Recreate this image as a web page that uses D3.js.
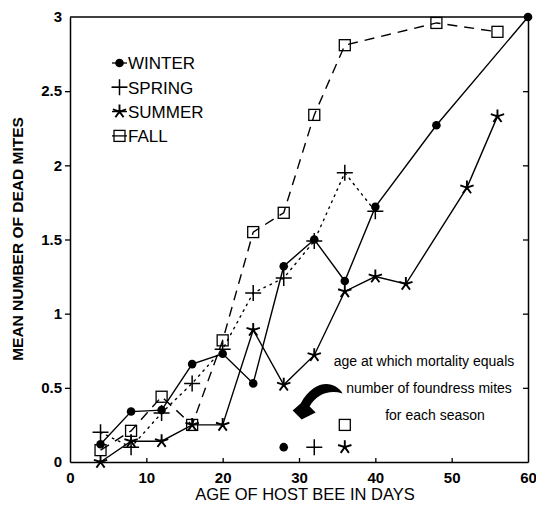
<!DOCTYPE html>
<html>
<head>
<meta charset="utf-8">
<script src="https://cdn.jsdelivr.net/npm/d3@7"></script>
<style>
  body { margin: 0; background: #fff; }
  svg { font-family: "Liberation Sans", Arial, Helvetica, sans-serif; }
</style>
</head>
<body>
<div id="container"></div>
<script>

// data (age in days, mean number of dead mites)
var winterDays = [4, 8, 12, 16, 20, 24, 28, 32, 36, 40, 48, 60];
var winterVals = [0.12, 0.34, 0.35, 0.66, 0.73, 0.53, 1.32, 1.50, 1.22, 1.72, 2.27, 3.0];

var springDays = [4, 8, 12, 16, 20, 24, 28, 32, 36, 40];
var springVals = [0.20, 0.10, 0.33, 0.53, 0.76, 1.14, 1.24, 1.49, 1.95, 1.69];

var summerDays = [4, 8, 12, 16, 20, 24, 28, 32, 36, 40, 44, 52, 56];
var summerVals = [0.0, 0.14, 0.14, 0.25, 0.25, 0.89, 0.52, 0.72, 1.15, 1.25, 1.20, 1.85, 2.33];

var fallDays = [4, 8, 12, 16, 20, 24, 28, 32, 36, 48, 56];
var fallVals = [0.08, 0.21, 0.44, 0.25, 0.82, 1.55, 1.68, 2.34, 2.81, 2.96, 2.90];

// age at which mortality equals number of foundress mites
var thresholdSeason = ["winter", "spring", "summer", "fall"];
var thresholdDays = [28, 32, 36, 36];
var thresholdVals = [0.1, 0.1, 0.1, 0.25];

var legendNames = ["WINTER", "SPRING", "SUMMER", "FALL"];
var xTicks = [0, 10, 20, 30, 40, 50, 60];
var yTicks = [0, 0.5, 1, 1.5, 2, 2.5, 3];
var noteLines = ["age at which mortality equals", "number of foundress mites", "for each season"];


function zip(days, vals) {
	var pts = [];
	for (var i = 0; i < days.length; i++) {
		pts.push({day: days[i], v: vals[i]});
	};
	return pts;
};


// marker drawing, one branch per season
function drawmarker(g, season, cx, cy) {
	if (season == "winter") {
		g.append("circle").attr("cx", cx).attr("cy", cy).attr("r", 4.3).attr("fill", "#000");
	} else if (season == "spring") {
		g.append("path")
		 .attr("d", "M" + (cx - 8) + "," + cy + "H" + (cx + 8) + "M" + cx + "," + (cy - 8) + "V" + (cy + 8))
		 .attr("stroke", "#000").attr("stroke-width", 1.5).attr("fill", "none");
	} else if (season == "summer") {
		var d = "";
		for (var k = 0; k < 5; k++) {
			var a = -Math.PI / 2 + k * 2 * Math.PI / 5;
			d += "M" + cx + "," + cy + "L" + (cx + 7 * Math.cos(a)) + "," + (cy + 7 * Math.sin(a));
		};
		g.append("path").attr("d", d).attr("stroke", "#000").attr("stroke-width", 1.9).attr("fill", "none");
		g.append("circle").attr("cx", cx).attr("cy", cy).attr("r", 1.9).attr("fill", "#000");
	} else {
		g.append("rect").attr("x", cx - 5.5).attr("y", cy - 5.5).attr("width", 11).attr("height", 11)
		 .attr("fill", "none").attr("stroke", "#000").attr("stroke-width", 1.3);
	};
};


function drawit() {
	var W = 536, H = 506;
	var svg = d3.select("#container").append("svg").attr("width", W).attr("height", H);

	var x = d3.scaleLinear().domain([0, 60]).range([70, 528]);
	var y = d3.scaleLinear().domain([0, 3]).range([462, 17]);

	// frame and axes
	var left = svg.append("g").attr("transform", "translate(70,0)")
	   .call(d3.axisLeft(y).tickValues(yTicks).tickSizeInner(5).tickSizeOuter(0).tickPadding(3).tickFormat(function(d) { return String(d); }));
	var bottom = svg.append("g").attr("transform", "translate(0,462)")
	   .call(d3.axisBottom(x).tickValues(xTicks).tickSizeInner(-4).tickSizeOuter(0).tickPadding(10));
	var right = svg.append("g").attr("transform", "translate(528,0)")
	   .call(d3.axisRight(y).tickValues(yTicks).tickSizeInner(-5).tickSizeOuter(0).tickFormat(""));
	svg.append("line").attr("x1", 70).attr("x2", 528).attr("y1", 17).attr("y2", 17)
	   .attr("stroke", "#000").attr("stroke-width", 1.5);

	[left, bottom, right].forEach(function(g) {
		g.select(".domain").attr("stroke-width", 1.5);
		g.selectAll(".tick line").attr("stroke-width", 1.3);
		g.selectAll(".tick text").attr("font-size", 15).attr("font-weight", "bold").attr("fill", "#000")
		 .attr("font-family", "'Liberation Sans', Arial, sans-serif");
	});
	// drop the ticks that sit on the frame corners
	bottom.selectAll(".tick line").filter(function(d) { return d == 0 || d == 60; }).remove();
	left.selectAll(".tick line").filter(function(d) { return d == 0 || d == 3; }).remove();
	right.selectAll(".tick line").filter(function(d) { return d == 0 || d == 3; }).remove();

	// axis titles
	svg.append("text").attr("x", 305).attr("y", 500).attr("text-anchor", "middle")
	   .attr("font-size", 16.5).text("AGE OF HOST BEE IN DAYS");
	svg.append("text").attr("transform", "translate(23,239) rotate(-90)").attr("text-anchor", "middle")
	   .attr("font-size", 15.5).attr("font-weight", "bold").text("MEAN NUMBER OF DEAD MITES");

	// series lines
	var line = d3.line().x(function(d) { return x(d.day); }).y(function(d) { return y(d.v); });
	var series = [
		{season: "winter", pts: zip(winterDays, winterVals), dash: null},
		{season: "spring", pts: zip(springDays, springVals), dash: "1.6,5"},
		{season: "summer", pts: zip(summerDays, summerVals), dash: null},
		{season: "fall", pts: zip(fallDays, fallVals), dash: "10,7"}
	];
	var lines = svg.append("g");
	series.forEach(function(s) {
		lines.append("path").datum(s.pts).attr("d", line)
		   .attr("fill", "none").attr("stroke", "#000").attr("stroke-width", 1.4)
		   .attr("stroke-dasharray", s.dash).attr("stroke-linecap", s.season == "spring" ? "round" : "butt");
	});

	var marks = svg.append("g");
	series.forEach(function(s) {
		s.pts.forEach(function(p) { drawmarker(marks, s.season, x(p.day), y(p.v)); });
	});

	// legend
	var lg = svg.append("g");
	legendNames.forEach(function(name, i) {
		var ly = 63 + i * 24.3;
		lg.append("line").attr("x1", 112).attr("x2", 127).attr("y1", ly).attr("y2", ly)
		  .attr("stroke", "#000").attr("stroke-width", 1.3);
		drawmarker(lg, thresholdSeason[i], 119.5, ly);
		lg.append("text").attr("x", 128).attr("y", ly + 6.2).attr("font-size", 17).text(name);
	});

	// annotation
	var notes = svg.append("g");
	var noteX = [424, 429, 435];
	noteLines.forEach(function(t, i) {
		notes.append("text").attr("x", noteX[i]).attr("y", 366 + i * 27).attr("text-anchor", "middle")
		   .attr("font-size", 14).text(t);
	});

	// curved arrow pointing down-left at the season markers
	var ax = x(31), ay = y(0.53);
	var p = function(dx, dy) { return (ax + dx) + "," + (ay + dy); };
	var arrow = "M" + p(36, 10)
	  + "C" + p(28, -3) + " " + p(8, -5) + " " + p(-6, 20)
	  + "L" + p(-14, 27)
	  + "L" + p(-5, 36)
	  + "L" + p(9, 29)
	  + "L" + p(3, 23)
	  + "C" + p(10, 11) + " " + p(22, 6) + " " + p(36, 10) + "Z";
	svg.append("path").attr("d", arrow).attr("fill", "#000");

	for (var i = 0; i < thresholdSeason.length; i++) {
		drawmarker(svg, thresholdSeason[i], x(thresholdDays[i]), y(thresholdVals[i]));
	};
};


drawit();
</script>
</body>
</html>
